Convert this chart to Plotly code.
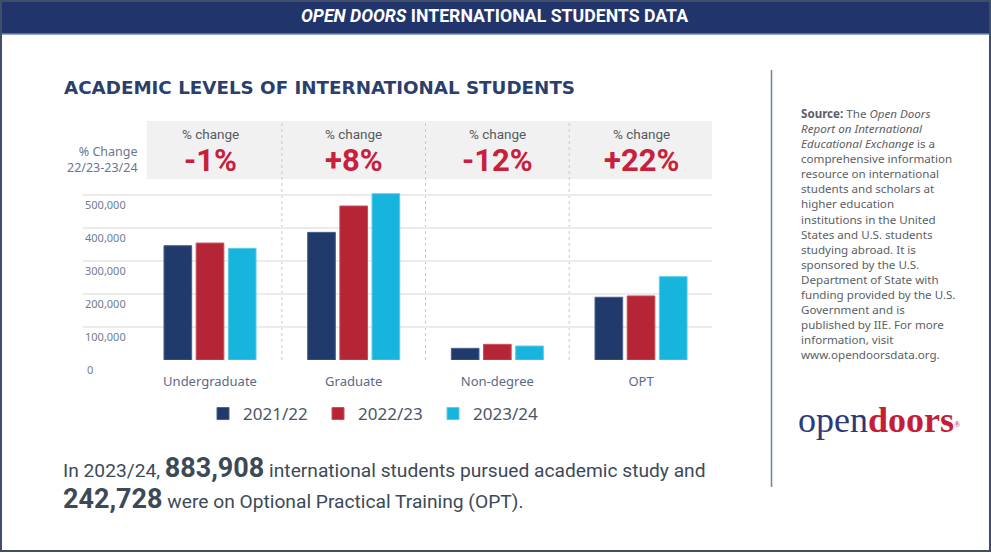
import plotly.graph_objects as go

# ---------------- data ----------------
categories = ["Undergraduate", "Graduate", "Non-degree", "OPT"]
years = ["2021/22", "2022/23", "2023/24"]
vals_2122 = [347000, 387500, 35400, 190500]
vals_2223 = [355000, 467500, 47600, 194500]
vals_2324 = [339000, 505000, 42500, 253000]
pct_change = ["-1%", "+8%", "-12%", "+22%"]
y_ticks = [0, 100000, 200000, 300000, 400000, 500000]
y_tick_labels = ["0", "100,000", "200,000", "300,000", "400,000", "500,000"]
source_lines = [
    "<b>Source:</b> The <i>Open Doors</i>",
    "<i>Report on International</i>",
    "<i>Educational Exchange</i> is a",
    "comprehensive information",
    "resource on international",
    "students and scholars at",
    "higher education",
    "institutions in the United",
    "States and U.S. students",
    "studying abroad. It is",
    "sponsored by the U.S.",
    "Department of State with",
    "funding provided by the U.S.",
    "Government and is",
    "published by IIE. For more",
    "information, visit",
    "www.opendoorsdata.org.",
]

colors = ["#213a6c", "#b52536", "#17b4dd"]
edge = ["#4a5f8c", "#c9505e", "#5ccbea"]
series = [vals_2122, vals_2223, vals_2324]

W, H = 991, 553
L, R, T, B = 83, 279, 121, 193
PW, PH = W - L - R, H - T - B


def px(x):
    return (x - L) / PW


def py(y):
    return (H - B - y) / PH


COND = "Roboto, sans-serif"
SANS = "Noto Sans, Open Sans, sans-serif"

fig = go.Figure()
for name, vals, c, e in zip(years, series, colors, edge):
    fig.add_trace(go.Bar(
        x=categories, y=vals, name=name,
        marker=dict(color=c, line=dict(color=e, width=1)),
        hoverinfo="x+y+name",
    ))

shapes = []
annotations = []

# header band
shapes.append(dict(type="rect", xref="paper", yref="paper",
                   x0=px(0), x1=px(W), y0=py(0), y1=py(34),
                   fillcolor="#21346b", line=dict(width=0), layer="below"))
shapes.append(dict(type="line", xref="paper", yref="paper",
                   x0=px(0), x1=px(W), y0=py(34), y1=py(34),
                   line=dict(color="#7188b8", width=1.5)))
annotations.append(dict(xref="paper", yref="paper", x=px(494), y=py(16),
                        text="<b><i>OPEN DOORS</i> INTERNATIONAL STUDENTS DATA</b>",
                        showarrow=False, xanchor="center", yanchor="middle",
                        font=dict(family=COND, size=17.7, color="white")))

# card border
shapes.append(dict(type="rect", xref="paper", yref="paper",
                   x0=px(1), x1=px(990), y0=py(1), y1=py(551),
                   fillcolor="rgba(0,0,0,0)", line=dict(color="#3f4f69", width=2)))

# title
annotations.append(dict(xref="paper", yref="paper", x=px(62), y=py(87),
                        text="<b>ACADEMIC LEVELS OF INTERNATIONAL STUDENTS</b>",
                        showarrow=False, xanchor="left", yanchor="middle",
                        font=dict(family="DejaVu Sans", size=18.3, color="#2a3f6b")))

# grey change boxes
box_edges = [(-0.44, 0.5), (0.5, 1.5), (1.5, 2.5), (2.5, 3.494)]
for x0, x1 in box_edges:
    shapes.append(dict(type="rect", xref="x", yref="paper", x0=x0, x1=x1,
                       y0=py(179), y1=py(121), fillcolor="#f1f1f1",
                       line=dict(width=0), layer="below"))
for xs in [0.5, 1.5, 2.5]:
    shapes.append(dict(type="line", xref="x", yref="paper", x0=xs, x1=xs,
                       y0=0, y1=1, line=dict(color="#c9c9c9", width=1, dash="dot"),
                       layer="below"))

for i, (cat, pc) in enumerate(zip(categories, pct_change)):
    annotations.append(dict(xref="x", yref="paper", x=cat, y=py(134),
                            text="% change", showarrow=False,
                            xanchor="center", yanchor="middle",
                            font=dict(family=COND, size=13.5, color="#555b63")))
    annotations.append(dict(xref="x", yref="paper", x=cat, y=py(160),
                            text="<b>" + pc + "</b>", showarrow=False,
                            xanchor="center", yanchor="middle",
                            font=dict(family=COND, size=31, color="#c8203b")))

annotations.append(dict(xref="paper", yref="paper", x=px(140), y=py(159.5),
                        text="% Change<br>22/23-23/24", showarrow=False,
                        xanchor="right", yanchor="middle", align="right",
                        font=dict(family=SANS, size=12.5, color="#6a7791")))

# y tick labels (sitting just below their gridline)
for v, lab in zip(y_ticks, y_tick_labels):
    annotations.append(dict(xref="paper", yref="y", x=0, y=v, yshift=-9,
                            text=lab, showarrow=False, xanchor="left",
                            yanchor="middle", xshift=2 if v == 0 else 0,
                            font=dict(family=SANS, size=11, color="#6f7d93")))

# right side source panel
shapes.append(dict(type="line", xref="paper", yref="paper",
                   x0=px(771.5), x1=px(771.5), y0=py(70), y1=py(487),
                   line=dict(color="#6f819d", width=1.5)))
annotations.append(dict(xref="paper", yref="paper", x=px(799), y=py(104),
                        text="<br>".join(source_lines), showarrow=False,
                        xanchor="left", yanchor="top", align="left",
                        font=dict(family=SANS, size=11.6, color="#5b5e63")))

# logo
annotations.append(dict(xref="paper", yref="paper", x=px(796), y=py(420),
                        text="<span style='color:#2b3a78'>open</span>"
                             "<span style='color:#c41e3a'><b>doors</b></span>"
                             "<span style='color:#c41e3a;font-size:12px'><sup>®</sup></span>",
                        showarrow=False, xanchor="left", yanchor="middle",
                        font=dict(family="Liberation Serif, DejaVu Serif, serif", size=36)))

# bottom summary text
annotations.append(dict(xref="paper", yref="paper", x=px(61), y=py(468),
                        text="In 2023/24, <b><span style='font-size:27px'>883,908</span></b> "
                             "international students pursued academic study and",
                        showarrow=False, xanchor="left", yanchor="middle",
                        font=dict(family=COND, size=19.2, color="#3c4a57")))
annotations.append(dict(xref="paper", yref="paper", x=px(61), y=py(499),
                        text="<b><span style='font-size:27px'>242,728</span></b> "
                             "were on Optional Practical Training (OPT).",
                        showarrow=False, xanchor="left", yanchor="middle",
                        font=dict(family=COND, size=19.2, color="#3c4a57")))

fig.update_layout(
    width=W, height=H,
    margin=dict(l=L, r=R, t=T, b=B, pad=0),
    paper_bgcolor="white", plot_bgcolor="rgba(0,0,0,0)",
    barmode="group", bargap=0.328, bargroupgap=0.14,
    shapes=shapes, annotations=annotations,
    showlegend=True,
    legend=dict(orientation="h", x=px(203), y=py(414), xanchor="left",
                yanchor="middle", font=dict(family=SANS, size=17, color="#4a5566"),
                entrywidth=70, bgcolor="rgba(0,0,0,0)", itemclick=False),
    xaxis=dict(range=[-0.884, 3.494], showgrid=False, zeroline=False,
               showline=False, ticks="", ticklabelstandoff=12,
               tickfont=dict(family=SANS, size=13, color="#5b6a86"),
               fixedrange=True),
    yaxis=dict(range=[0, 725600], tickvals=y_ticks, showticklabels=False,
               showgrid=True, gridcolor="#ebebeb", gridwidth=1.5,
               zeroline=False, showline=False, fixedrange=True),
    font=dict(family=SANS),
)

fig.write_html("out.html", config={"displayModeBar": False},
               post_script="document.body.style.margin='0';")
